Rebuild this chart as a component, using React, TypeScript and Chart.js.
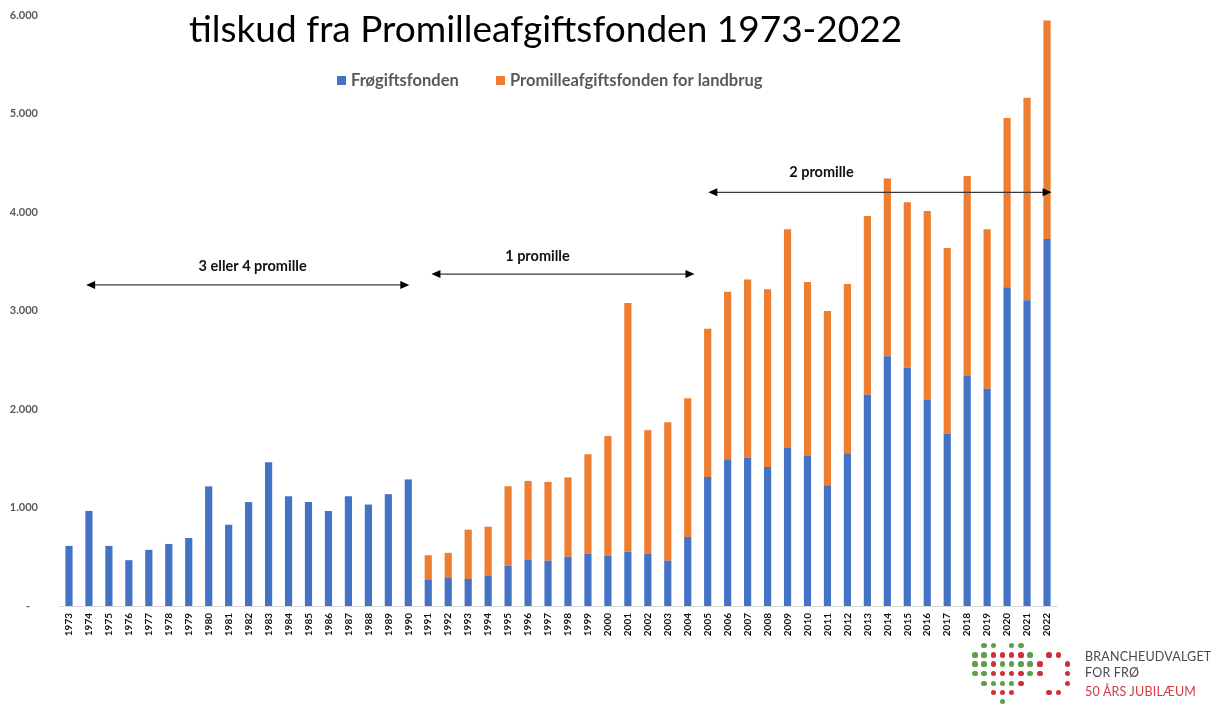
import React, { useEffect, useRef } from "react";
import { Chart, registerables } from "chart.js";

Chart.register(...registerables);

const years = [
  "1973", "1974", "1975", "1976", "1977", "1978", "1979", "1980", "1981", "1982",
  "1983", "1984", "1985", "1986", "1987", "1988", "1989", "1990", "1991", "1992",
  "1993", "1994", "1995", "1996", "1997", "1998", "1999", "2000", "2001", "2002",
  "2003", "2004", "2005", "2006", "2007", "2008", "2009", "2010", "2011", "2012",
  "2013", "2014", "2015", "2016", "2017", "2018", "2019", "2020", "2021", "2022",
];

const froegiftValues = [
  610, 965, 610, 465, 570, 630, 690, 1215, 825, 1055,
  1460, 1115, 1055, 965, 1115, 1030, 1135, 1285, 265, 290,
  275, 310, 410, 470, 460, 500, 530, 510, 550, 530,
  460, 700, 1310, 1490, 1505, 1410, 1610, 1525, 1225, 1550,
  2145, 2535, 2420, 2095, 1750, 2335, 2205, 3235, 3105, 3725,
];

const promilleValues = [
  0, 0, 0, 0, 0, 0, 0, 0, 0, 0,
  0, 0, 0, 0, 0, 0, 0, 0, 250, 250,
  500, 495, 805, 800, 800, 805, 1010, 1215, 2525, 1255,
  1405, 1410, 1505, 1700, 1810, 1805, 2215, 1765, 1770, 1720,
  1815, 1805, 1680, 1915, 1885, 2030, 1620, 1720, 2055, 2220,
];

const seriesNames = ["Frøgiftsfonden", "Promilleafgiftsfonden for landbrug"];
const seriesColors = ["#4472C4", "#ED7D31"];

const yTicks = [0, 1000, 2000, 3000, 4000, 5000, 6000];

const titleText = "tilskud fra Promilleafgiftsfonden 1973-2022";

// Period annotations (arrows) in data units: year positions and y-levels
const periodLabels = ["3 eller 4 promille", "1 promille", "2 promille"];
const arrowFromYear = [1973.86, 1991.16, 2005.03];
const arrowToYear = [1990.05, 2004.34, 2022.23];
const arrowLevel = [3260, 3370, 4200];
const labelYear = [1982.2, 1996.47, 2010.7];
const labelLevel = [3450, 3545, 4405];

const logoLines = ["BRANCHEUDVALGET", "FOR FRØ", "50 ÅRS JUBILÆUM"];

const FONT = "Lato, 'Open Sans', sans-serif";

function formatThousands(v: number): string {
  if (v === 0) return "-   ";
  return String(v).replace(/\B(?=(\d{3})+(?!\d))/g, ".");
}

const overlayPlugin = {
  id: "overlay",
  afterDraw(chart: any) {
    const ctx = chart.ctx as CanvasRenderingContext2D;
    const x = chart.scales.x;
    const y = chart.scales.y;
    const first = Number(years[0]);
    ctx.save();

    // title
    ctx.fillStyle = "#000";
    ctx.font = `400 37px ${FONT}`;
    ctx.textAlign = "left";
    ctx.textBaseline = "alphabetic";
    ctx.fillText(titleText, 189, 42);

    // legend
    ctx.font = `700 16.5px ${FONT}`;
    ctx.textBaseline = "middle";
    const legendX = [337, 496];
    chart.data.datasets.forEach((ds: any, i: number) => {
      ctx.fillStyle = ds.backgroundColor;
      ctx.fillRect(legendX[i], 76, 9, 9);
      ctx.fillStyle = "#595959";
      ctx.fillText(ds.label, legendX[i] + 14, 81);
    });

    // arrows + labels
    for (let i = 0; i < periodLabels.length; i++) {
      const x1 = x.getPixelForValue(arrowFromYear[i] - first);
      const x2 = x.getPixelForValue(arrowToYear[i] - first);
      const yy = y.getPixelForValue(arrowLevel[i]);
      const head = 9;
      const hh = 4;
      ctx.strokeStyle = "#3a3a3a";
      ctx.lineWidth = 1.2;
      ctx.beginPath();
      ctx.moveTo(x1 + head - 1, yy);
      ctx.lineTo(x2 - head + 1, yy);
      ctx.stroke();
      ctx.fillStyle = "#000";
      ctx.beginPath();
      ctx.moveTo(x1, yy);
      ctx.lineTo(x1 + head, yy - hh);
      ctx.lineTo(x1 + head, yy + hh);
      ctx.closePath();
      ctx.fill();
      ctx.beginPath();
      ctx.moveTo(x2, yy);
      ctx.lineTo(x2 - head, yy - hh);
      ctx.lineTo(x2 - head, yy + hh);
      ctx.closePath();
      ctx.fill();

      ctx.font = `700 14.5px ${FONT}`;
      ctx.textAlign = "center";
      ctx.textBaseline = "middle";
      ctx.fillStyle = "#111";
      ctx.fillText(
        periodLabels[i],
        x.getPixelForValue(labelYear[i] - first),
        y.getPixelForValue(labelLevel[i])
      );
    }
    ctx.restore();
  },
};

const logoCols = [975, 984, 993.3, 1002.7, 1011.7, 1021, 1030, 1040, 1049, 1058.3, 1067.3];
const logoRows = [645.7, 655, 664, 673.3, 683.3, 692.7, 701.7];
const logoPattern = [
  ".GG.GG.....",
  "GGRRRRG.RR.",
  "GGRGGGGR..R",
  "GGRRRRGR..R",
  ".GGGGR....R",
  "..RRR...RR.",
  "...G.......",
];

function Logo() {
  const dots: any[] = [];
  logoPattern.forEach((row, r) => {
    row.split("").forEach((c, k) => {
      if (c === ".") return;
      dots.push(
        <div
          key={`${r}-${k}`}
          style={{
            position: "absolute",
            left: logoCols[k] - 2.6,
            top: logoRows[r] - 2.6,
            width: 5.2,
            height: 5.2,
            borderRadius: "50%",
            background: c === "G" ? "#5e9f4c" : "#cf2f3a",
          }}
        />
      );
    });
  });
  const baselines = [661, 677, 696];
  return (
    <>
      {dots}
      {logoLines.map((t, i) => (
        <div
          key={t}
          style={{
            position: "absolute",
            left: 1085,
            top: baselines[i] - 11,
            fontFamily: FONT,
            fontSize: 12.5,
            lineHeight: "13px",
            color: i === 2 ? "#d23a44" : "#4a4a4a",
            whiteSpace: "nowrap",
            letterSpacing: 0.2,
          }}
        >
          {t}
        </div>
      ))}
    </>
  );
}

export default function App() {
  const canvasRef = useRef<HTMLCanvasElement | null>(null);

  useEffect(() => {
    if (!canvasRef.current) return;
    const chart = new Chart(canvasRef.current, {
      type: "bar",
      data: {
        labels: years,
        datasets: [
          {
            label: seriesNames[0],
            data: froegiftValues,
            backgroundColor: seriesColors[0],
            barPercentage: 0.36,
            categoryPercentage: 1,
          },
          {
            label: seriesNames[1],
            data: promilleValues,
            backgroundColor: seriesColors[1],
            barPercentage: 0.36,
            categoryPercentage: 1,
          },
        ],
      },
      options: {
        animation: false,
        responsive: false,
        maintainAspectRatio: false,
        layout: { padding: { top: 15, right: 167, left: 0, bottom: 0 } },
        plugins: { legend: { display: false }, tooltip: { enabled: false }, title: { display: false } },
        scales: {
          x: {
            stacked: true,
            grid: { display: false, drawTicks: false },
            border: { display: true, color: "#d9d9d9", width: 1 },
            ticks: {
              autoSkip: false,
              maxRotation: 90,
              minRotation: 90,
              padding: 7,
              color: "#111",
              font: { family: FONT, size: 10, weight: "bold" },
            },
            afterFit: (s: any) => {
              s.height = 98;
            },
          },
          y: {
            stacked: true,
            min: 0,
            max: 6000,
            afterBuildTicks: (s: any) => {
              s.ticks = yTicks.map((v) => ({ value: v }));
            },
            grid: { display: false, drawTicks: true, tickLength: 21 },
            border: { display: false },
            ticks: {
              padding: 0,
              color: "#595959",
              font: { family: FONT, size: 11, weight: "bold" },
              callback: (v: any) => formatThousands(Number(v)),
            },
            afterFit: (s: any) => {
              s.width = 59;
            },
          },
        },
      },
      plugins: [overlayPlugin],
    });
    return () => chart.destroy();
  }, []);

  return (
    <div style={{ position: "fixed", left: 0, top: 0, width: 1224, height: 704, background: "#fff" }}>
      <canvas ref={canvasRef} width={1224} height={704} style={{ display: "block" }} />
      <Logo />
    </div>
  );
}
